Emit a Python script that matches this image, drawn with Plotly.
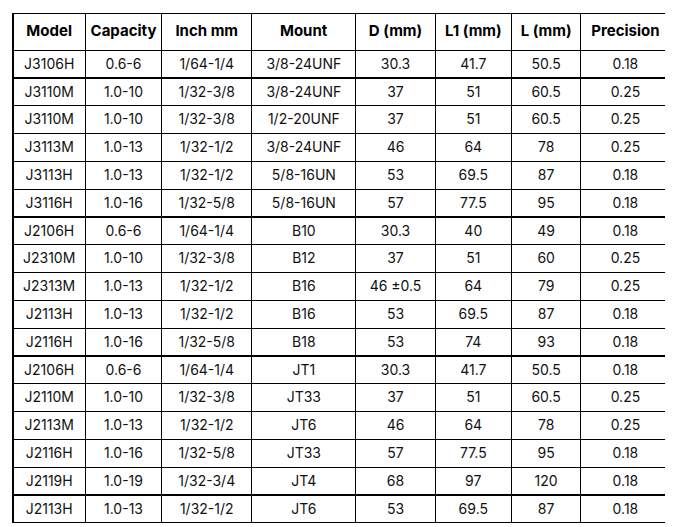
import plotly.graph_objects as go

headers = ["Model", "Capacity", "Inch mm", "Mount", "D (mm)", "L1 (mm)", "L (mm)", "Precision"]
model = ["J3106H","J3110M","J3110M","J3113M","J3113H","J3116H","J2106H","J2310M","J2313M","J2113H","J2116H","J2106H","J2110M","J2113M","J2116H","J2119H","J2113H"]
capacity = ["0.6-6","1.0-10","1.0-10","1.0-13","1.0-13","1.0-16","0.6-6","1.0-10","1.0-13","1.0-13","1.0-16","0.6-6","1.0-10","1.0-13","1.0-16","1.0-19","1.0-13"]
inch = ["1/64-1/4","1/32-3/8","1/32-3/8","1/32-1/2","1/32-1/2","1/32-5/8","1/64-1/4","1/32-3/8","1/32-1/2","1/32-1/2","1/32-5/8","1/64-1/4","1/32-3/8","1/32-1/2","1/32-5/8","1/32-3/4","1/32-1/2"]
mount = ["3/8-24UNF","3/8-24UNF","1/2-20UNF","3/8-24UNF","5/8-16UN","5/8-16UN","B10","B12","B16","B16","B18","JT1","JT33","JT6","JT33","JT4","JT6"]
d_mm = ["30.3","37","37","46","53","57","30.3","37","46 ±0.5","53","53","30.3","37","46","57","68","53"]
l1_mm = ["41.7","51","51","64","69.5","77.5","40","51","64","69.5","74","41.7","51","64","77.5","97","69.5"]
l_mm = ["50.5","60.5","60.5","78","87","95","49","60","79","87","93","50.5","60.5","78","95","120","87"]
precision = ["0.18","0.25","0.25","0.25","0.18","0.18","0.18","0.25","0.25","0.18","0.18","0.18","0.25","0.25","0.18","0.18","0.18"]

W, H = 673, 527
widths = [73, 77, 91, 105, 80, 77, 70, 90]

fig = go.Figure(go.Table(
    domain=dict(x=[0.0, 0.985], y=[0.0, 0.99]),
    columnwidth=widths,
    header=dict(values=["<b>" + h.replace(" ", "\u00a0") + "</b>" for h in headers], height=37,
                fill_color="white", line=dict(color="black", width=1.2),
                align="center", font=dict(family="Inter", size=15, color="black")),
    cells=dict(values=[model, capacity, inch, mount, d_mm, l1_mm, l_mm, precision], height=27.8,
               fill_color="white", line=dict(color="black", width=1.2),
               align="center", font=dict(family="Inter", size=14, color="#111")),
))
fig.update_layout(width=W, height=H, margin=dict(l=5, r=0, t=0, b=0),
                  paper_bgcolor="white", plot_bgcolor="white")
fig.write_html("out.html")
